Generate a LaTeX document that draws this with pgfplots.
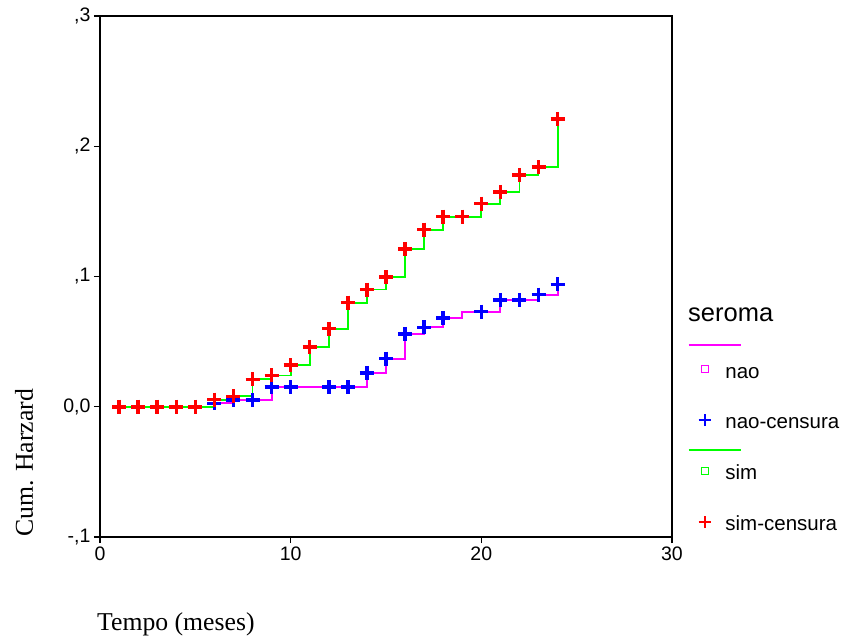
\documentclass[border=0pt]{standalone}
\usepackage{pgfplots}
\pgfplotsset{compat=1.18}
\usepackage{fontspec}
\setmainfont{Liberation Sans}
\newfontfamily\timesfont{Liberation Serif}
\definecolor{cmag}{RGB}{255,0,255}
\definecolor{cblue}{RGB}{0,0,255}
\definecolor{cgreen}{RGB}{0,255,0}
\definecolor{cred}{RGB}{255,0,0}
\newcommand{\lstrut}{\rule[-17.9bp]{0pt}{51.2bp}}
\begin{document}
\begin{tikzpicture}
\useasboundingbox (-100bp,-101bp) rectangle (745bp,537bp);
\begin{axis}[
  at={(0,0)}, anchor=south west,
  scale only axis, width=572bp, height=521bp,
  xmin=0, xmax=30, ymin=-0.1, ymax=0.3,
  xtick={0,10,20,30}, xticklabels={0,10,20,30},
  ytick={-0.1,0,0.1,0.2,0.3},
  yticklabels={{-,1},{0,0},{,1},{,2},{,3}},
  tick align=outside, xtick pos=bottom, ytick pos=left,
  major tick length=6bp,
  every tick/.style={black, line width=1.3bp},
  axis line style={black, line width=1.5bp},
  tick label style={font=\fontsize{19.5bp}{22bp}\selectfont},
  clip=false,
  legend cell align=left,
  legend style={at={(1.04545,0.3691)}, anchor=north west,
    draw=none, fill=none, inner sep=0pt, outer sep=0pt,
    row sep=16.2bp, column sep=0pt,
    nodes={inner sep=0pt, outer sep=0pt, font=\fontsize{20.5bp}{24bp}\selectfont},
    /tikz/every odd column/.append style={column sep=13.4bp}},
]
% nao
\addplot[cmag, line width=1.9bp, const plot, forget plot] coordinates {
(1,0)(2,0)(3,0)(4,0)(5,0)(6,0.0026)(7,0.005)(8,0.005)(9,0.015)(10,0.015)
(12,0.015)(13,0.015)(14,0.026)(15,0.037)(16,0.056)(17,0.061)(18,0.068)
(19,0.073)(20,0.073)(21,0.082)(22,0.082)(23,0.086)(24,0.094)};
\addplot[only marks, mark=+, cblue, mark size=7bp, line width=3.5bp, forget plot] coordinates {
(1,0)(2,0)(3,0)(4,0)(5,0)(6,0.0026)(7,0.005)(8,0.005)(9,0.015)(10,0.015)
(12,0.015)(13,0.015)(14,0.026)(15,0.037)(16,0.056)(17,0.061)(18,0.068)
(20,0.073)(21,0.082)(22,0.082)(23,0.086)(24,0.094)};
% sim
\addplot[cgreen, line width=1.9bp, const plot, forget plot] coordinates {
(1,0)(2,0)(3,0)(4,0)(5,0)(6,0.0054)(7,0.008)(8,0.021)(9,0.024)(10,0.032)
(11,0.046)(12,0.060)(13,0.080)(14,0.090)(15,0.0995)(16,0.121)(17,0.136)
(18,0.146)(19,0.146)(20,0.156)(21,0.165)(22,0.178)(23,0.184)(24,0.221)};
\addplot[only marks, mark=+, cred, mark size=7bp, line width=3.5bp, forget plot] coordinates {
(1,0)(2,0)(3,0)(4,0)(5,0)(6,0.0054)(7,0.008)(8,0.021)(9,0.024)(10,0.032)
(11,0.046)(12,0.060)(13,0.080)(14,0.090)(15,0.0995)(16,0.121)(17,0.136)
(18,0.146)(19,0.146)(20,0.156)(21,0.165)(22,0.178)(23,0.184)(24,0.221)};
% legend
\addlegendimage{legend image code/.code={
  \path[draw=none, fill=none] (-7bp,-7bp) rectangle (7bp,7bp);
  \draw[cmag, line width=1.3bp, overlay] (-16.3bp,17.2bp) -- (35.7bp,17.2bp);
  \draw[cmag, line width=1.3bp, overlay] (-3.5bp,-10.3bp) rectangle (3.5bp,-3.3bp);}}
\addlegendentry{\lstrut nao}
\addlegendimage{legend image code/.code={
  \path[draw=none, fill=none] (-7bp,-7bp) rectangle (7bp,7bp);
  \draw[cblue, line width=1.5bp, overlay] (-6.3bp,-6.8bp) -- (6.3bp,-6.8bp) (0,-13.1bp) -- (0,-0.5bp);}}
\addlegendentry{\lstrut nao-censura}
\addlegendimage{legend image code/.code={
  \path[draw=none, fill=none] (-7bp,-7bp) rectangle (7bp,7bp);
  \draw[cgreen, line width=1.3bp, overlay] (-16.3bp,14.2bp) -- (35.7bp,14.2bp);
  \draw[cgreen, line width=1.3bp, overlay] (-3.5bp,-10.3bp) rectangle (3.5bp,-3.3bp);}}
\addlegendentry{\lstrut sim}
\addlegendimage{legend image code/.code={
  \path[draw=none, fill=none] (-7bp,-7bp) rectangle (7bp,7bp);
  \draw[cred, line width=1.5bp, overlay] (-6.3bp,-6.8bp) -- (6.3bp,-6.8bp) (0,-13.1bp) -- (0,-0.5bp);}}
\addlegendentry{\lstrut sim-censura}
% texts
\node[anchor=base west, inner sep=0pt, xshift=16bp, yshift=215bp,
  font=\fontsize{25.5bp}{30bp}\selectfont] at (rel axis cs:1,0) {seroma};
\node[anchor=base west, inner sep=0pt, xshift=-3bp, yshift=-93bp,
  font=\timesfont\fontsize{25.7bp}{30bp}\selectfont] at (rel axis cs:0,0) {Tempo (meses)};
\node[xshift=-67bp, rotate=90, anchor=base west, inner sep=0pt,
  font=\timesfont\fontsize{25.7bp}{30bp}\selectfont] at (rel axis cs:0,0) {Cum. Harzard};
\end{axis}
\end{tikzpicture}
\end{document}
